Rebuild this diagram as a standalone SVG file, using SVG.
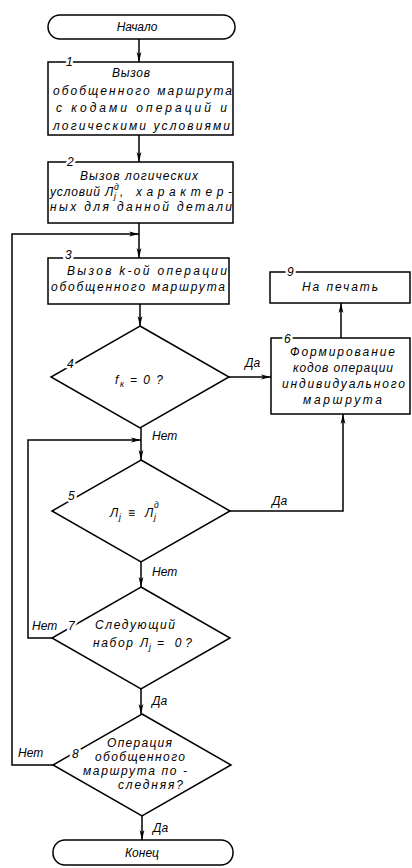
<svg xmlns="http://www.w3.org/2000/svg" width="412" height="868" viewBox="0 0 412 868">
<defs>
<marker id="ah" markerWidth="10" markerHeight="6" refX="10" refY="3" orient="auto" markerUnits="userSpaceOnUse">
<path d="M0,0.6 L10,3 L0,5.4 L2.5,3 Z" fill="#000"/>
</marker>
<style>
.s{fill:#fff;stroke:#000;stroke-width:1.5}
.c{fill:none;stroke:#000;stroke-width:1.5}
.t{font-family:"Liberation Sans","DejaVu Sans",sans-serif;font-style:italic;font-size:12px;fill:#000}
.m{text-anchor:middle}
.k{stroke:#fff;stroke-width:5;paint-order:stroke;stroke-linejoin:round}
.sm{font-size:8.5px}
</style>
</defs>
<rect width="412" height="868" fill="#fff"/>

<g id="connectors">
<path class="c" d="M139,39 V62" marker-end="url(#ah)"/>
<path class="c" d="M139,135 V162" marker-end="url(#ah)"/>
<path class="c" d="M139,223 V258" marker-end="url(#ah)"/>
<path class="c" d="M53,765 H12 V234 H139" marker-end="url(#ah)"/>
<path class="c" d="M140,304 V326" marker-end="url(#ah)"/>
<path class="c" d="M229,377 H271" marker-end="url(#ah)"/>
<path class="c" d="M341,338 V303" marker-end="url(#ah)"/>
<path class="c" d="M141,428 V460" marker-end="url(#ah)"/>
<path class="c" d="M52,638 H28 V440 H141" marker-end="url(#ah)"/>
<path class="c" d="M230,511 H343 V414" marker-end="url(#ah)"/>
<path class="c" d="M141,562 V587" marker-end="url(#ah)"/>
<path class="c" d="M141,689 V714" marker-end="url(#ah)"/>
<path class="c" d="M142,816 V840" marker-end="url(#ah)"/>
<text class="t" x="245" y="367">Да</text>
<text class="t" x="152" y="440">Нет</text>
<text class="t" x="272" y="505">Да</text>
<text class="t" x="152" y="576">Нет</text>
<text class="t" x="32" y="630">Нет</text>
<text class="t" x="152" y="705">Да</text>
<text class="t" x="18" y="757">Нет</text>
<text class="t" x="153" y="832">Да</text>
</g>

<g id="start">
<rect class="s" x="48" y="15" width="187" height="24" rx="12"/>
<text class="t m" x="137" y="31">Начало</text>
</g>

<g id="n1">
<rect class="s" x="48" y="62" width="185" height="73"/>
<text class="t k" x="66" y="66">1</text>
<text class="t" x="112" y="77" textLength="38">Вызов</text>
<text class="t" x="53" y="94.5" textLength="179">обобщенного маршрута</text>
<text class="t" x="56" y="112" textLength="171">с кодами операций и</text>
<text class="t" x="53" y="129.5" textLength="177">логическими условиями</text>
</g>

<g id="n2">
<rect class="s" x="48" y="162" width="185" height="61"/>
<text class="t k" x="67" y="166">2</text>
<text class="t" x="80" y="180" textLength="118">Вызов логических</text>
<text class="t" x="50" y="196" textLength="50">условий</text>
<text class="t" x="105" y="196">Л</text>
<text class="t sm" x="114" y="199">j</text>
<text class="t sm" x="114" y="190">д</text>
<text class="t" x="120" y="196" textLength="112">, характер-</text>
<text class="t" x="50" y="211" textLength="182">ных для данной детали</text>
</g>

<g id="n3">
<rect class="s" x="48" y="258" width="181" height="46"/>
<text class="t k" x="65" y="259">3</text>
<text class="t" x="67" y="275" textLength="160">Вызов k-ой операции</text>
<text class="t" x="51" y="291" textLength="174">обобщенного маршрута</text>
</g>

<g id="n4">
<polygon class="s" points="140,326 229,377 140,428 51,377"/>
<text class="t k" x="67" y="368">4</text>
<text class="t" x="115" y="384">f</text>
<text class="t sm" x="120" y="387">к</text>
<text class="t" x="130" y="384" textLength="33">= 0 ?</text>
</g>

<g id="n9">
<rect class="s" x="270" y="272" width="140" height="31"/>
<text class="t k" x="287" y="276">9</text>
<text class="t" x="302" y="291" textLength="76">На печать</text>
</g>

<g id="n6">
<rect class="s" x="271" y="338" width="139" height="76"/>
<text class="t k" x="284" y="343">6</text>
<text class="t" x="290" y="356" textLength="105">Формирование</text>
<text class="t" x="293" y="372" textLength="100">кодов операции</text>
<text class="t" x="282" y="388" textLength="123">индивидуального</text>
<text class="t" x="303" y="404" textLength="79">маршрута</text>
</g>

<g id="n5">
<polygon class="s" points="141,460 230,511 141,562 52,511"/>
<text class="t k" x="68" y="500">5</text>
<text class="t" x="110" y="517">Л</text>
<text class="t sm" x="119" y="520">j</text>
<text class="t" x="128" y="517">≡</text>
<text class="t" x="145" y="517">Л</text>
<text class="t sm" x="154" y="520">j</text>
<text class="t sm" x="154" y="508">д</text>
</g>

<g id="n7">
<polygon class="s" points="141,587 230,638 141,689 52,638"/>
<text class="t k" x="68" y="630">7</text>
<text class="t" x="95" y="629" textLength="80">Следующий</text>
<text class="t" x="93" y="647" textLength="40">набор</text>
<text class="t" x="140" y="647">Л</text>
<text class="t sm" x="149" y="650">j</text>
<text class="t" x="157" y="647" textLength="35">= 0?</text>
</g>

<g id="n8">
<polygon class="s" points="142,714 231,765 142,816 53,765"/>
<text class="t k" x="72" y="758">8</text>
<text class="t" x="107" y="747" textLength="65">Операция</text>
<text class="t" x="95" y="761" textLength="90">обобщенного</text>
<text class="t" x="83" y="775" textLength="104">маршрута по -</text>
<text class="t" x="118" y="789" textLength="65">следняя?</text>
</g>

<g id="end">
<rect class="s" x="53" y="840" width="180" height="25" rx="12"/>
<text class="t m" x="142" y="857">Конец</text>
</g>
</svg>
